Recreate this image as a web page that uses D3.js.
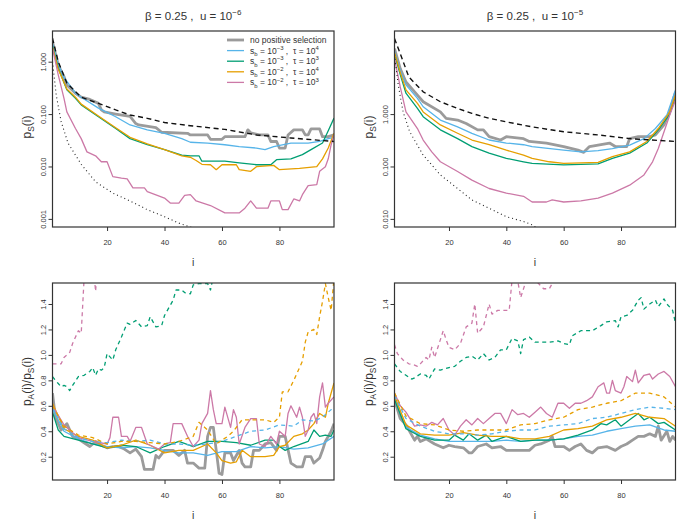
<!DOCTYPE html>
<html>
<head>
<meta charset="utf-8">
<script src="https://cdn.jsdelivr.net/npm/d3@7"></script>
<style>
body { margin: 0; background: #fff; }
svg text { font-family: "Liberation Sans", Arial, Helvetica, sans-serif; fill: #333; white-space: pre; }
</style>
</head>
<body>
<svg id="chart" width="685" height="526"></svg>
<script>
// ---- data, [i, value] ----
const xTicks = [20, 40, 60, 80];

// top left: beta = 0.25, u = 1e-6
const tlGray = [[1,2.4],[3,0.86],[5,0.52],[6,0.36],[9,0.25],[11,0.21],[14,0.19],[17,0.16],[18,0.12],[19,0.11],[23,0.1],[28,0.09],[30,0.066],[31,0.062],[37,0.055],[39,0.045],[48,0.043],[49,0.04],[55,0.04],[56,0.033],[60,0.033],[61,0.037],[68,0.037],[69,0.05],[70,0.044],[73,0.04],[76,0.04],[77,0.03],[79,0.03],[80,0.0225],[82,0.0225],[83,0.04],[85,0.05],[88,0.05],[89,0.04],[90,0.04],[91,0.052],[94,0.052],[95,0.037],[97,0.037],[99,0.04]];
const tlBlue = [[1,2.2],[3,0.9],[5,0.5],[9,0.25],[11,0.21],[17,0.13],[23,0.089],[28,0.062],[34,0.05],[40,0.043],[46,0.034],[49,0.029],[55,0.028],[61,0.026],[66,0.024],[72,0.0225],[75,0.021],[78,0.024],[84,0.028],[90,0.028],[94,0.03],[97,0.034],[99,0.036]];
const tlGreen = [[1,2.0],[3,0.75],[6,0.29],[9,0.2],[11,0.15],[17,0.089],[23,0.053],[28,0.034],[34,0.026],[40,0.021],[46,0.0164],[49,0.016],[52,0.016],[53,0.0126],[61,0.0126],[66,0.0117],[72,0.0108],[77,0.0108],[79,0.0135],[84,0.014],[88,0.0168],[91,0.021],[95,0.028],[97,0.048],[99,0.084]];
const tlOrange = [[1,1.9],[3,0.72],[6,0.3],[9,0.21],[11,0.155],[17,0.092],[23,0.055],[28,0.036],[34,0.027],[40,0.021],[46,0.016],[49,0.015],[51,0.013],[53,0.011],[56,0.0108],[58,0.0087],[60,0.0108],[65,0.0108],[66,0.0087],[70,0.0081],[72,0.0099],[78,0.0105],[80,0.0087],[87,0.0092],[93,0.0099],[95,0.014],[97,0.0225],[99,0.043]];
const tlPink = [[1,1.8],[3,0.56],[5,0.2],[6,0.11],[9,0.053],[11,0.034],[13,0.019],[16,0.016],[18,0.0123],[20,0.0123],[22,0.0064],[25,0.006],[27,0.0058],[29,0.0039],[33,0.0039],[34,0.0033],[40,0.0025],[42,0.002],[45,0.002],[47,0.0028],[49,0.0029],[51,0.0022],[56,0.0018],[61,0.0013],[66,0.0013],[68,0.0016],[70,0.0022],[72,0.0016],[76,0.0016],[77,0.0022],[80,0.0022],[81,0.0015],[83,0.0015],[85,0.0024],[87,0.0022],[88,0.0029],[90,0.0043],[93,0.0045],[94,0.0081],[96,0.0099],[97,0.014],[98,0.026],[99,0.04]];
const tlDash = [[1,2.8],[3,1.0],[6,0.39],[11,0.21],[17,0.16],[23,0.12],[28,0.096],[34,0.083],[40,0.069],[49,0.06],[61,0.051],[72,0.04],[84,0.035],[99,0.03]];
const tlDot = [[1,1.0],[2.3,0.23],[4,0.072],[6.4,0.028],[11,0.011],[16,0.0051],[22,0.0031],[28,0.0022],[34,0.0015],[40,0.0011],[45,0.00083],[49,0.0007],[52,0.0006]];

// top right: beta = 0.25, u = 1e-5
const trGray = [[1,17.8],[3,7.4],[5,4.1],[9,2.3],[11,1.72],[17,1.1],[19,0.83],[23,0.77],[26,0.66],[30,0.5],[32,0.5],[34,0.37],[38,0.32],[40,0.37],[46,0.34],[48,0.3],[54,0.28],[60,0.24],[65,0.205],[67,0.186],[69,0.24],[72,0.256],[76,0.28],[78,0.24],[82,0.24],[83,0.34],[86,0.37],[90,0.37],[92,0.4],[95,0.62],[97,1.1],[99,2.66]];
const trBlue = [[1,16],[3,6.8],[5,3.6],[9,2.0],[11,1.38],[17,0.77],[23,0.57],[28,0.43],[34,0.32],[40,0.28],[46,0.26],[49,0.24],[60,0.205],[66,0.19],[72,0.2],[77,0.22],[83,0.256],[88,0.34],[92,0.53],[96,0.96],[99,2.9]];
const trOrange = [[1,15],[3,6.2],[5,2.9],[9,1.6],[11,1.1],[17,0.62],[23,0.43],[28,0.32],[34,0.26],[40,0.205],[46,0.165],[49,0.143],[55,0.123],[60,0.115],[72,0.12],[77,0.154],[83,0.19],[89,0.3],[93,0.53],[97,1.1],[99,2.3]];
const trGreen = [[1,14],[3,5.7],[5,2.5],[9,1.28],[11,0.89],[17,0.5],[23,0.34],[28,0.24],[34,0.18],[40,0.143],[46,0.123],[49,0.115],[60,0.107],[72,0.112],[77,0.143],[83,0.18],[89,0.28],[93,0.5],[97,1.0],[99,2.1]];
const trPink = [[1,11.5],[3,3.3],[5,1.1],[9,0.53],[11,0.32],[14,0.19],[17,0.123],[23,0.08],[28,0.055],[34,0.038],[40,0.031],[46,0.027],[49,0.021],[54,0.021],[56,0.023],[60,0.021],[66,0.022],[72,0.025],[77,0.031],[83,0.044],[88,0.069],[91,0.123],[93,0.22],[95,0.46],[97,0.96],[99,1.85]];
const trDash = [[1,27.6],[3,14.3],[6,5.1],[11,2.66],[17,1.72],[23,1.28],[28,1.03],[34,0.83],[40,0.71],[49,0.57],[60,0.46],[72,0.4],[83,0.34],[99,0.3]];
const trDot = [[1,13.3],[2.3,3.6],[4,1.1],[6.3,0.46],[11,0.165],[17,0.069],[23,0.038],[28,0.023],[34,0.016],[40,0.011],[46,0.0089],[49,0.0077],[52,0.006]];

// bottom left: pA/pS, u = 1e-6
const blGray = [[1,0.7],[2,0.51],[4,0.41],[6,0.46],[8,0.36],[10,0.34],[12,0.31],[14,0.28],[16,0.32],[18,0.29],[20,0.27],[22,0.28],[24,0.28],[26,0.26],[28,0.23],[30,0.26],[32,0.2],[33,0.1],[36,0.1],[37,0.21],[38,0.19],[40,0.25],[43,0.25],[45,0.21],[47,0.25],[48,0.15],[50,0.15],[52,0.11],[54,0.11],[55,0.36],[56,0.43],[57,0.43],[58,0.25],[59,0.07],[60,0.06],[61,0.23],[63,0.23],[64,0.17],[66,0.25],[67,0.15],[68,0.12],[70,0.12],[71,0.25],[73,0.25],[75,0.3],[77,0.31],[79,0.25],[80,0.36],[82,0.36],[84,0.15],[86,0.12],[88,0.12],[89,0.2],[91,0.2],[92,0.15],[94,0.19],[95,0.25],[96,0.32],[98,0.4],[99,0.46]];
const blPink = [[1,0.6],[5,0.45],[10,0.35],[15,0.32],[20,0.3],[21,0.35],[22,0.51],[24,0.51],[25,0.36],[27,0.36],[28,0.32],[30,0.43],[32,0.43],[34,0.3],[36,0.28],[38,0.26],[40,0.3],[42,0.31],[43,0.46],[46,0.46],[48,0.36],[50,0.28],[52,0.33],[53,0.46],[55,0.54],[56,0.72],[57,0.57],[58,0.46],[60,0.46],[61,0.59],[63,0.43],[64,0.57],[65,0.51],[66,0.3],[68,0.43],[70,0.5],[72,0.5],[73,0.3],[75,0.28],[77,0.36],[79,0.3],[80,0.4],[82,0.36],[83,0.54],[84,0.6],[86,0.51],[87,0.59],[88,0.51],[89,0.36],[90,0.41],[91,0.51],[92,0.54],[93,0.46],[94,0.67],[95,0.78],[96,0.59],[97,0.62],[99,0.67]];
const blOrange = [[1,0.62],[5,0.42],[10,0.36],[15,0.33],[20,0.27],[25,0.29],[30,0.33],[35,0.29],[40,0.23],[45,0.25],[50,0.25],[55,0.3],[58,0.23],[60,0.17],[63,0.15],[65,0.16],[67,0.25],[70,0.2],[75,0.2],[78,0.21],[80,0.28],[82,0.29],[85,0.36],[88,0.38],[90,0.41],[92,0.46],[94,0.54],[96,0.51],[97,0.62],[99,0.78]];
const blGreen = [[1,0.55],[3,0.41],[5,0.36],[10,0.33],[15,0.3],[20,0.27],[25,0.29],[30,0.28],[35,0.23],[40,0.28],[45,0.32],[50,0.28],[55,0.32],[60,0.32],[65,0.31],[70,0.29],[75,0.33],[78,0.33],[80,0.28],[82,0.25],[85,0.28],[90,0.32],[92,0.41],[94,0.36],[96,0.37],[98,0.36],[99,0.41]];
const blBlue = [[1,0.58],[5,0.4],[10,0.34],[15,0.3],[20,0.28],[25,0.27],[30,0.28],[35,0.27],[40,0.25],[45,0.23],[50,0.23],[55,0.21],[60,0.24],[65,0.24],[70,0.28],[75,0.27],[80,0.28],[85,0.26],[90,0.27],[95,0.3],[99,0.36]];
const blPinkD = [[1,0.93],[4,0.93],[5,0.98],[7,1.02],[8,1.09],[10,1.19],[11,1.17],[12,1.6],[13,1.8],[15,1.75],[16,1.5],[17,1.8],[18,1.9]];
const blGreenD = [[1,0.83],[2,0.8],[3,0.775],[4,0.75],[5,0.76],[6,0.75],[7,0.72],[8,0.76],[10,0.83],[12,0.84],[14,0.87],[15,0.9],[16,0.84],[17,0.89],[18,0.88],[19,0.9],[20,1.01],[22,0.96],[23,1.04],[25,1.14],[27,1.25],[28,1.24],[30,1.27],[32,1.22],[34,1.23],[35,1.3],[36,1.26],[37,1.22],[39,1.23],[40,1.31],[41,1.35],[43,1.43],[44,1.51],[46,1.51],[47,1.49],[49,1.48],[50,1.55],[52,1.56],[55,1.56],[56,1.51],[57,1.62],[60,1.7]];
const blOrangeD = [[1,0.6],[5,0.44],[10,0.37],[15,0.35],[20,0.3],[25,0.32],[30,0.32],[35,0.31],[40,0.3],[45,0.32],[50,0.36],[52,0.47],[55,0.41],[58,0.3],[62,0.36],[64,0.4],[67,0.49],[70,0.49],[75,0.49],[78,0.47],[80,0.51],[81,0.71],[83,0.71],[85,0.8],[88,0.95],[89,1.1],[90,1.18],[92,1.2],[93,1.16],[94,1.3],[95,1.42],[96,1.56],[97,1.45],[98,1.35],[99,1.6]];
const blBlueD = [[1,0.58],[5,0.42],[10,0.35],[15,0.32],[20,0.31],[25,0.33],[30,0.32],[35,0.33],[40,0.3],[45,0.3],[50,0.29],[55,0.3],[60,0.32],[65,0.36],[70,0.4],[75,0.41],[80,0.45],[85,0.44],[88,0.49],[92,0.48],[95,0.51],[98,0.57],[99,0.55]];

// bottom right: pA/pS, u = 1e-5
const brGray = [[1,0.65],[3,0.5],[5,0.45],[8,0.33],[9,0.36],[10,0.32],[12,0.34],[15,0.3],[18,0.27],[20,0.29],[22,0.28],[25,0.27],[27,0.23],[28,0.23],[30,0.28],[33,0.3],[35,0.27],[38,0.28],[40,0.25],[45,0.25],[48,0.25],[50,0.29],[52,0.3],[55,0.33],[56,0.36],[57,0.28],[60,0.28],[62,0.25],[64,0.28],[66,0.3],[68,0.25],[70,0.23],[72,0.27],[75,0.28],[78,0.25],[80,0.28],[82,0.3],[84,0.33],[86,0.36],[88,0.36],[90,0.38],[92,0.36],[93,0.44],[94,0.33],[96,0.4],[97,0.32],[98,0.36],[99,0.33]];
const brPink = [[1,0.7],[3,0.6],[5,0.55],[8,0.44],[10,0.45],[12,0.44],[14,0.47],[16,0.45],[18,0.5],[20,0.41],[22,0.37],[24,0.44],[26,0.49],[28,0.45],[30,0.5],[32,0.46],[34,0.5],[36,0.54],[38,0.54],[40,0.46],[42,0.57],[44,0.53],[46,0.54],[48,0.51],[50,0.55],[52,0.59],[54,0.54],[56,0.51],[58,0.62],[60,0.62],[62,0.58],[64,0.62],[66,0.62],[68,0.64],[70,0.67],[72,0.75],[74,0.78],[75,0.7],[76,0.7],[77,0.8],[78,0.72],[80,0.7],[81,0.75],[82,0.83],[84,0.79],[85,0.88],[86,0.78],[88,0.84],[90,0.85],[91,0.81],[93,0.85],[95,0.87],[97,0.83],[99,0.75]];
const brOrange = [[1,0.68],[5,0.45],[10,0.38],[15,0.37],[20,0.37],[25,0.39],[30,0.37],[35,0.36],[40,0.36],[45,0.34],[50,0.34],[55,0.36],[60,0.41],[65,0.42],[70,0.44],[75,0.49],[80,0.51],[85,0.54],[90,0.51],[95,0.5],[99,0.44]];
const brGreen = [[1,0.65],[5,0.42],[10,0.36],[15,0.33],[20,0.33],[22,0.37],[25,0.33],[27,0.38],[30,0.33],[33,0.37],[35,0.32],[40,0.36],[45,0.32],[50,0.33],[55,0.33],[60,0.34],[65,0.37],[70,0.41],[73,0.46],[75,0.45],[78,0.49],[80,0.44],[83,0.49],[86,0.54],[88,0.49],[90,0.51],[93,0.46],[95,0.47],[99,0.41]];
const brBlue = [[1,0.66],[5,0.43],[10,0.37],[15,0.34],[20,0.32],[25,0.32],[30,0.32],[35,0.32],[40,0.33],[45,0.32],[50,0.33],[55,0.33],[60,0.34],[65,0.36],[70,0.37],[75,0.4],[80,0.42],[85,0.44],[90,0.45],[95,0.41],[99,0.4]];
const brPinkD = [[1,1.08],[2,1.01],[4,0.96],[6,0.93],[8,0.92],[9,0.91],[10,0.93],[12,0.98],[13,0.96],[14,1.06],[15,0.98],[17,1.12],[18,1.19],[19,1.12],[20,1.06],[22,1.04],[24,1.09],[26,1.22],[28,1.25],[29,1.4],[30,1.17],[32,1.22],[34,1.4],[35,1.32],[37,1.35],[41,1.35],[42,1.59],[44,1.58],[45,1.45],[47,1.59],[50,1.59],[53,1.52],[55,1.52],[56,1.56],[58,1.6]];
const brGreenD = [[1,0.93],[3,0.87],[5,0.84],[7,0.81],[8,0.82],[10,0.85],[12,0.84],[13,0.81],[15,0.89],[17,0.88],[20,0.9],[22,0.91],[24,0.95],[26,0.98],[28,0.99],[30,0.96],[32,1.01],[34,0.96],[36,0.98],[38,1.04],[40,1.04],[42,1.13],[44,1.11],[45,1.01],[46,1.12],[48,1.14],[50,1.1],[55,1.1],[58,1.11],[60,1.09],[62,1.08],[63,1.15],[66,1.19],[70,1.19],[73,1.23],[75,1.26],[78,1.27],[79,1.22],[80,1.3],[82,1.31],[84,1.35],[86,1.43],[87,1.45],[88,1.36],[90,1.4],[92,1.43],[93,1.38],[95,1.44],[96,1.4],[98,1.35],[99,1.25]];
const brOrangeD = [[1,0.7],[5,0.52],[10,0.46],[15,0.45],[20,0.41],[25,0.4],[30,0.41],[35,0.41],[40,0.41],[45,0.45],[50,0.46],[55,0.49],[60,0.51],[65,0.57],[70,0.59],[75,0.62],[80,0.64],[85,0.7],[90,0.7],[95,0.67],[99,0.59]];
const brBlueD = [[1,0.68],[5,0.5],[10,0.44],[15,0.4],[20,0.38],[25,0.38],[30,0.37],[35,0.38],[40,0.4],[45,0.41],[50,0.41],[55,0.44],[60,0.45],[65,0.46],[70,0.5],[75,0.51],[80,0.54],[85,0.57],[90,0.59],[95,0.58],[99,0.57]];

const legendItems = ["none", ["−3","4"], ["−3","3"], ["−2","4"], ["−2","3"]];

const col = { gray: "#9b9b9b", blue: "#56B4E9", green: "#009E73", orange: "#E69F00", pink: "#CC79A7" };
const legendColors = [col.gray, col.blue, col.green, col.orange, col.pink];

const svg = d3.select("#chart");
const font = "Liberation Sans, Arial, Helvetica, sans-serif";

// text with sub / superscripts: parts = [[str, "sub"|"sup"|null]]
function rich(text, parts, base) {
    let cur = 0;
    parts.forEach(([s, kind]) => {
        let off = kind === "sup" ? -0.45 * base : kind === "sub" ? 0.28 * base : 0;
        text.append("tspan")
            .attr("dy", off - cur)
            .attr("font-size", kind ? base * 0.7 : base)
            .text(s);
        cur = off;
    });
}

function panel(id, box, y, yTicks, yFmt, series) {
    const g = svg.append("g");
    const x = d3.scaleLinear().domain([1, 99]).range([box.l, box.r]);
    y.range([box.b, box.t]);

    g.append("clipPath").attr("id", id).append("rect")
        .attr("x", box.l).attr("y", box.t)
        .attr("width", box.r - box.l).attr("height", box.b - box.t);

    const plot = g.append("g").attr("clip-path", `url(#${id})`);
    const line = d3.line().x(d => x(d[0])).y(d => y(d[1]));

    series.forEach(s => {
        plot.append("path")
            .attr("d", line(s.data))
            .attr("fill", "none")
            .attr("stroke", s.color)
            .attr("stroke-width", s.w || 1.3)
            .attr("stroke-dasharray", s.dash || null)
            .attr("stroke-linejoin", "round");
    });

    const xa = g.append("g").attr("transform", `translate(0,${box.b})`)
        .call(d3.axisBottom(x).tickValues(xTicks).tickSize(4).tickPadding(9));
    const ya = g.append("g").attr("transform", `translate(${box.l},0)`)
        .call(d3.axisLeft(y).tickValues(yTicks).tickFormat(yFmt).tickSize(4));
    [xa, ya].forEach(a => {
        a.select(".domain").remove();
        a.attr("font-family", font).attr("font-size", 7.5);
        a.selectAll("line").attr("stroke", "#333");
        a.selectAll("text").attr("fill", "#444");
    });
    ya.selectAll("text")
        .attr("x", null).attr("dy", null)
        .attr("text-anchor", "middle")
        .attr("transform", "translate(-7,0) rotate(-90)");

    g.append("rect")
        .attr("x", box.l).attr("y", box.t)
        .attr("width", box.r - box.l).attr("height", box.b - box.t)
        .attr("fill", "none").attr("stroke", "#333").attr("stroke-width", 1.2);

    g.append("text")
        .attr("x", (box.l + box.r) / 2).attr("y", box.b + 39)
        .attr("text-anchor", "middle").attr("font-size", 10.5).text("i");

    return { x, y };
}

const topL = { l: 52.5, r: 334, t: 31, b: 227 };
const topR = { l: 394.5, r: 675.5, t: 31, b: 227 };
const botL = { l: 52.5, r: 334, t: 283, b: 480 };
const botR = { l: 394.5, r: 675.5, t: 283, b: 480 };

const dashBlack = "5,3.5";
const dotBlack = "1,3";
const dashCol = "4,3.5";
const fmt3 = d3.format(".3f");
const fmt1 = d3.format(".1f");

function topSeries(gr, bl, gn, or, pk, da, dt) {
    return [
        { data: gr, color: col.gray, w: 2.8 },
        { data: bl, color: col.blue },
        { data: gn, color: col.green },
        { data: or, color: col.orange },
        { data: pk, color: col.pink },
        { data: da, color: "#111", w: 1.4, dash: dashBlack },
        { data: dt, color: "#222", w: 1.1, dash: dotBlack }
    ];
}

panel("c1", topL, d3.scaleLog().domain([0.0007, 3.85]), [0.001, 0.01, 0.1, 1], fmt3,
    topSeries(tlGray, tlBlue, tlGreen, tlOrange, tlPink, tlDash, tlDot));
panel("c2", topR, d3.scaleLog().domain([0.007, 38.5]), [0.01, 0.1, 1], fmt3,
    topSeries(trGray, trBlue, trGreen, trOrange, trPink, trDash, trDot));

const yBot = [0.2, 0.4, 0.6, 0.8, 1.0, 1.2, 1.4];
panel("c3", botL, d3.scaleLinear().domain([0.017, 1.565]), yBot, fmt1, [
    { data: blGray, color: col.gray, w: 2.8 },
    { data: blBlue, color: col.blue },
    { data: blGreen, color: col.green },
    { data: blOrange, color: col.orange },
    { data: blPink, color: col.pink },
    { data: blBlueD, color: col.blue, dash: dashCol },
    { data: blOrangeD, color: col.orange, dash: dashCol },
    { data: blGreenD, color: col.green, dash: dashCol },
    { data: blPinkD, color: col.pink, dash: dashCol }
]);
panel("c4", botR, d3.scaleLinear().domain([0.017, 1.565]), yBot, fmt1, [
    { data: brGray, color: col.gray, w: 2.8 },
    { data: brBlue, color: col.blue },
    { data: brGreen, color: col.green },
    { data: brOrange, color: col.orange },
    { data: brPink, color: col.pink },
    { data: brBlueD, color: col.blue, dash: dashCol },
    { data: brOrangeD, color: col.orange, dash: dashCol },
    { data: brGreenD, color: col.green, dash: dashCol },
    { data: brPinkD, color: col.pink, dash: dashCol }
]);

// titles
[[topL, "−6"], [topR, "−5"]].forEach(([b, e]) => {
    const t = svg.append("text")
        .attr("x", (b.l + b.r) / 2).attr("y", 20)
        .attr("text-anchor", "middle");
    rich(t, [["β = 0.25 ,  u = 10", null], [e, "sup"]], 11.5);
});

// y labels
[topL, topR].forEach(b => {
    const t = svg.append("text")
        .attr("transform", `translate(${b.l - 22},127) rotate(-90)`)
        .attr("text-anchor", "middle");
    rich(t, [["p", null], ["S", "sub"], ["(i)", null]], 12);
});
[botL, botR].forEach(b => {
    const t = svg.append("text")
        .attr("transform", `translate(${b.l - 22},${(b.t + b.b) / 2}) rotate(-90)`)
        .attr("text-anchor", "middle");
    rich(t, [["p", null], ["A", "sub"], ["(i)/p", null], ["S", "sub"], ["(i)", null]], 12);
});

// legend
const leg = svg.append("g");
legendItems.forEach((it, k) => {
    const yy = 40 + k * 10.6;
    leg.append("line")
        .attr("x1", 227).attr("x2", 244).attr("y1", yy).attr("y2", yy)
        .attr("stroke", legendColors[k]).attr("stroke-width", k === 0 ? 2.8 : 1.3);
    const t = leg.append("text").attr("x", 250).attr("y", yy + 3);
    if (it === "none") {
        rich(t, [["no positive selection", null]], 8.5);
    } else {
        rich(t, [["s", null], ["b", "sub"], [" = 10", null], [it[0], "sup"], [" ,  τ = 10", null], [it[1], "sup"]], 8.5);
    }
});
</script>
</body>
</html>
